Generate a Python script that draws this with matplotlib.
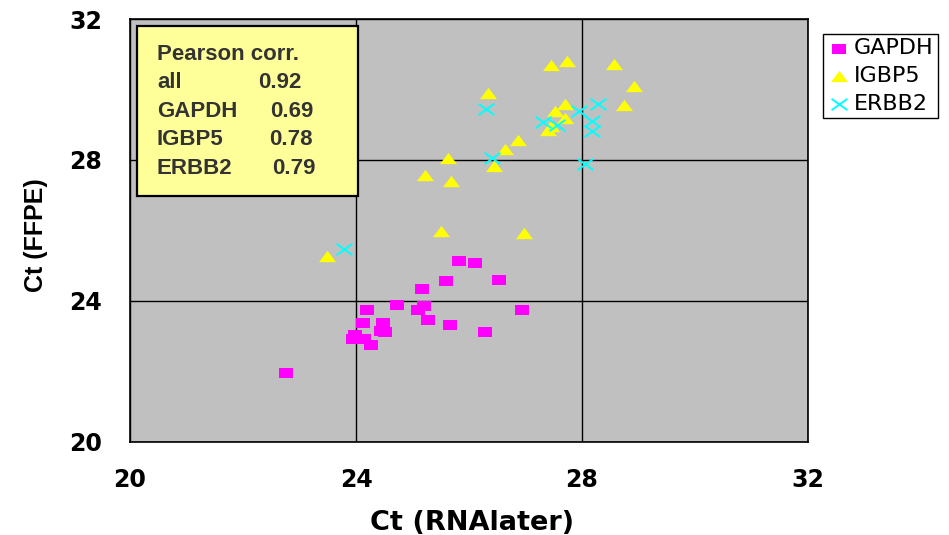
import matplotlib
matplotlib.use("Agg")
import matplotlib.pyplot as plt
from matplotlib.path import Path
from matplotlib.patches import Rectangle

# values
gapdh_x = [25.82, 26.10, 25.60, 26.53, 25.17, 24.73, 24.20, 25.09, 25.20, 26.93, 24.12,
           24.48, 25.28, 25.67, 24.44, 24.52, 26.28, 23.98, 23.95, 24.15, 24.27, 22.76]
gapdh_y = [25.12, 25.08, 24.55, 24.59, 24.34, 23.89, 23.73, 23.73, 23.85, 23.73, 23.36,
           23.36, 23.44, 23.31, 23.15, 23.11, 23.11, 23.02, 22.90, 22.90, 22.73, 21.95]

igbp5_x = [27.46, 27.73, 28.56, 26.34, 28.92, 27.70, 28.74, 27.52, 27.70, 27.40, 27.46,
           26.87, 26.64, 25.62, 26.44, 25.22, 25.69, 23.49, 25.50, 26.98]
igbp5_y = [30.68, 30.81, 30.73, 29.89, 30.09, 29.59, 29.55, 29.39, 29.18, 28.85, 28.96,
           28.56, 28.31, 28.06, 27.82, 27.57, 27.40, 25.28, 25.97, 25.92]

erbb2_x = [26.30, 27.31, 27.56, 27.95, 28.28, 28.17, 28.17, 26.40, 28.06, 23.78]
erbb2_y = [29.43, 29.07, 28.98, 29.39, 29.60, 29.11, 28.82, 28.05, 27.88, 25.48]

ticks = [20, 24, 28, 32]
corr_names = ["all", "GAPDH", "IGBP5", "ERBB2"]
corr_vals = ["0.92", "0.69", "0.78", "0.79"]

W, H = 949, 535
fig = plt.figure(figsize=(W / 100, H / 100), dpi=100)
ax = fig.add_axes([130 / W, 1 - 441.5 / H, 678 / W, 422.5 / H])
ax.set_facecolor("#C0C0C0")

# wide markers (the original picture is stretched sideways)
sq = [(-1.45, -1), (1.45, -1), (1.45, 1), (-1.45, 1)]
tri = [(-1.5, -1), (1.5, -1), (0, 1)]
cross = Path([(-1.4, -1), (1.4, 1), (-1.4, 1), (1.4, -1)],
             [Path.MOVETO, Path.LINETO, Path.MOVETO, Path.LINETO])

ax.scatter(gapdh_x, gapdh_y, marker=sq, s=95, color="#FF00FF", lw=0, zorder=3, label="GAPDH")
ax.scatter(igbp5_x, igbp5_y, marker=tri, s=150, color="#FFFF00", lw=0, zorder=3, label="IGBP5")
ax.scatter(erbb2_x, erbb2_y, marker=cross, s=130, color="#00FFFF", lw=1.4, zorder=4, label="ERBB2")

ax.set_xlim(20, 32)
ax.set_ylim(20, 32)
ax.set_xticks(ticks)
ax.set_yticks(ticks)
ax.grid(True, color="black", lw=1)
ax.set_axisbelow(True)
ax.tick_params(length=0)
for lab in ax.get_xticklabels() + ax.get_yticklabels():
    lab.set_fontfamily("DejaVu Sans")
    lab.set_fontweight("bold")
    lab.set_fontsize(17)
ax.tick_params(axis="x", pad=19)
ax.tick_params(axis="y", pad=20)
for sp in ax.spines.values():
    sp.set_color("black")
    sp.set_linewidth(1.2)

ax.set_xlabel("Ct (RNAlater)", fontfamily="DejaVu Sans", fontweight="bold", fontsize=19.5)
ax.set_ylabel("Ct (FFPE)", fontfamily="Liberation Sans", fontweight="bold", fontsize=18)
ax.xaxis.set_label_coords(0.504, -0.162)
ax.yaxis.set_label_coords(-0.121, 0.489)

# correlation box
ax.add_patch(Rectangle((7 / 678, (441.5 - 196) / 422.5), 221 / 678, 170 / 422.5,
                       transform=ax.transAxes, facecolor="#FFFF99", edgecolor="black",
                       lw=1.6, zorder=5))
txt = dict(fontfamily="Liberation Sans", fontweight="bold", fontsize=16, color="#333333",
           va="baseline", zorder=6)
fig.text(157 / W, 1 - 60 / H, "Pearson corr.", **txt)
base = [88, 117, 145, 174]
vx = [258, 270, 269, 272]
for name, val, b, x in zip(corr_names, corr_vals, base, vx):
    fig.text(157 / W, 1 - b / H, name, **txt)
    fig.text(x / W, 1 - b / H, val, **txt)

leg = fig.legend(loc="upper left", bbox_to_anchor=(823 / W, 1 - 34 / H),
                 prop={"family": "DejaVu Sans", "size": 16}, frameon=True, fancybox=False,
                 edgecolor="black", framealpha=1, handletextpad=0.2, handlelength=1.0,
                 borderpad=0.2, labelspacing=0.34, borderaxespad=0)
leg.get_frame().set_linewidth(1)

fig.savefig("out.png", dpi=100)
